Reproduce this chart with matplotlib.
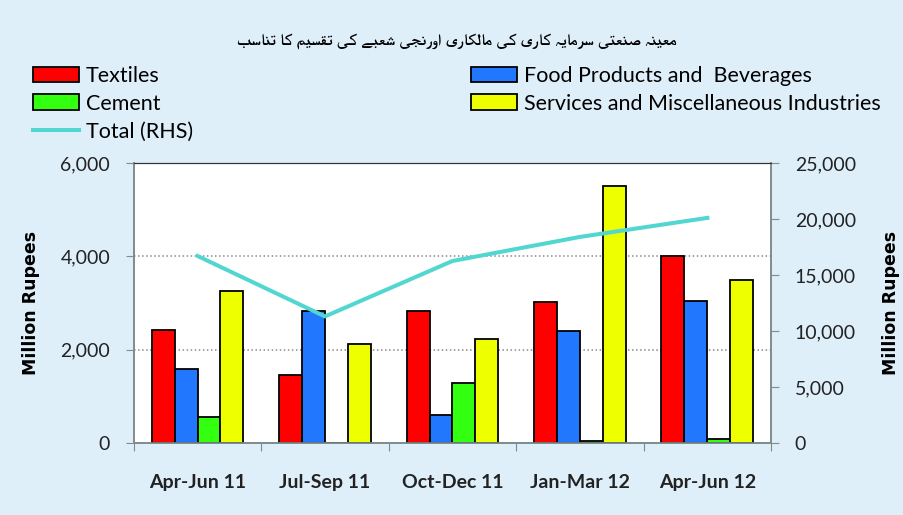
import matplotlib
matplotlib.use("Agg")
import matplotlib.pyplot as plt
import numpy as np
from matplotlib.patches import Patch
from matplotlib.lines import Line2D
from matplotlib import font_manager
from matplotlib.ft2font import FT2Font

# data
periods = ["Apr-Jun 11", "Jul-Sep 11", "Oct-Dec 11", "Jan-Mar 12", "Apr-Jun 12"]
textiles = [2420, 1450, 2820, 3030, 4010]
food = [1580, 2830, 590, 2390, 3050]
cement = [550, 0, 1290, 40, 90]
services = [3260, 2120, 2230, 5510, 3490]
total = [16700, 11300, 16250, 18400, 20100]

series_names = ["Textiles", "Food Products and  Beverages", "Cement",
                "Services and Miscellaneous Industries"]
# urdu title, reading order
title_words = ["معینہ", "صنعتی", "سرمایہ", "کاری", "کی", "مالکاری", "اورنجی",
               "شعبے", "کی", "تقسیم", "کا", "تناسب"]

bg = "#dfeffa"
c_red, c_blue, c_green, c_yellow = "#ff0000", "#2277ff", "#33ff11", "#eeff00"
c_line = "#52d6d0"

# tiny arabic shaper (matplotlib has no complex text layout)
forms = {
    "ا": (0xFE8D, 0xFE8E, None, None),
    "ب": (0xFE8F, 0xFE90, 0xFE91, 0xFE92),
    "ت": (0xFE95, 0xFE96, 0xFE97, 0xFE98),
    "ج": (0xFE9D, 0xFE9E, 0xFE9F, 0xFEA0),
    "ر": (0xFEAD, 0xFEAE, None, None),
    "س": (0xFEB1, 0xFEB2, 0xFEB3, 0xFEB4),
    "ش": (0xFEB5, 0xFEB6, 0xFEB7, 0xFEB8),
    "ص": (0xFEB9, 0xFEBA, 0xFEBB, 0xFEBC),
    "ع": (0xFEC9, 0xFECA, 0xFECB, 0xFECC),
    "ق": (0xFED5, 0xFED6, 0xFED7, 0xFED8),
    "ل": (0xFEDD, 0xFEDE, 0xFEDF, 0xFEE0),
    "م": (0xFEE1, 0xFEE2, 0xFEE3, 0xFEE4),
    "ن": (0xFEE5, 0xFEE6, 0xFEE7, 0xFEE8),
    "و": (0xFEED, 0xFEEE, None, None),
    "ک": (0xFB8E, 0xFB8F, 0xFB90, 0xFB91),
    "ہ": (0xFBA6, 0xFBA7, 0xFBA8, 0xFBA9),
    "ی": (0xFBFC, 0xFBFD, 0xFBFE, 0xFBFF),
    "ے": (0xFBAE, 0xFBAF, None, None),
}


def shape(word):
    out = []
    for i, ch in enumerate(word):
        iso, fin, ini, med = forms[ch]
        prev_j = i > 0 and forms[word[i - 1]][2] is not None
        next_j = i < len(word) - 1 and ini is not None
        if prev_j and next_j:
            g = med
        elif prev_j:
            g = fin
        elif next_j:
            g = ini
        else:
            g = iso
        out.append(chr(g))
    return "".join(reversed(out))


# matplotlib lays glyphs out left to right, so words go in reverse reading order
title = " ".join(shape(wd) for wd in reversed(title_words))

# pick an installed family that covers every glyph of the title
needed = {ord(c) for c in title if c != " "}
covering = {}
for f in font_manager.fontManager.ttflist:
    try:
        cm = FT2Font(f.fname).get_charmap()
    except Exception:
        continue
    if needed <= set(cm):
        covering.setdefault(f.name, f.fname)
title_fam = ["DejaVu Sans"]
for pref in ["FreeSans", "FreeSerif"] + sorted(covering):
    if pref in covering:
        title_fam = [pref, "DejaVu Sans"]
        break

fig = plt.figure(figsize=(9.04, 5.15), dpi=100, facecolor=bg)
ax = fig.add_axes([0.148, 0.1398, 0.705, 0.5437])
ax2 = ax.twinx()

x = np.arange(len(periods))
w = 0.18
for k, (vals, col) in enumerate(zip([textiles, food, cement, services],
                                     [c_red, c_blue, c_green, c_yellow])):
    ax.bar(x + (k - 1.5) * w, vals, w, color=col, edgecolor="black", linewidth=1.3, zorder=3)

ax2.plot(x, total, color=c_line, lw=2.9, zorder=4)

ax.set_xlim(-0.5, 4.5)
ax.set_ylim(0, 6000)
ax.set_yticks([0, 2000, 4000, 6000])
ax.set_yticklabels([f"{v:,}" for v in [0, 2000, 4000, 6000]])
ax2.set_ylim(0, 25000)
ax2.set_yticks(range(0, 25001, 5000))
ax2.set_yticklabels([f"{v:,}" for v in range(0, 25001, 5000)])

ax.grid(axis="y", linestyle=":", color="#8a8a8a", lw=1.1)
ax.set_axisbelow(True)

ax.set_xticks(np.arange(-0.5, 5, 1))
ax.set_xticklabels([])
ax.set_xticks(x, minor=True)
ax.set_xticklabels(periods, minor=True, fontsize=14, family="Lato", fontweight="bold", color="#222222")
ax.tick_params(axis="x", which="minor", length=0, pad=22)
ax.tick_params(axis="x", which="major", length=6, color="#7f8c8c", direction="out")
ax.tick_params(axis="y", length=6, color="#7f8c8c", pad=11, labelsize=14, labelcolor="#222222")
ax2.tick_params(axis="y", length=6, color="#7f8c8c", pad=11, labelsize=14, labelcolor="#222222")
for t in ax.get_yticklabels() + ax2.get_yticklabels():
    t.set_family("Lato")

for a in (ax, ax2):
    for s in ["left", "right", "bottom"]:
        a.spines[s].set_color("#7f8c8c")
        a.spines[s].set_linewidth(1.2)
    a.spines["top"].set_color("#333333")

fig.text(31 / 904, 1 - 303 / 515, "Million Rupees", rotation=90, ha="center", va="center",
         fontsize=12.5, fontweight="bold", color="black")
fig.text(891 / 904, 1 - 303 / 515, "Million Rupees", rotation=90, ha="center", va="center",
         fontsize=12.5, fontweight="bold", color="black")

fig.text(0.505, 1 - 42 / 515, title, ha="center", va="center", fontsize=11.8,
         fontweight="bold", family=title_fam, color="black")


def box(col):
    return Patch(facecolor=col, edgecolor="black", linewidth=1.3)


leg_kw = dict(frameon=False, handlelength=2.15, handleheight=0.75,
              handletextpad=0.3, labelspacing=0.36, borderpad=0, borderaxespad=0,
              loc="upper left", prop={"family": "Lato", "size": 15.5})
fig.legend([box(c_red), box(c_green), Line2D([], [], color=c_line, lw=2.9)],
           [series_names[0], series_names[2], "Total (RHS)"],
           bbox_to_anchor=(33 / 904, 1 - 66 / 515), **leg_kw)
fig.legend([box(c_blue), box(c_yellow)], [series_names[1], series_names[3]],
           bbox_to_anchor=(471 / 904, 1 - 66 / 515), **leg_kw)

fig.savefig("out.png", dpi=100, facecolor=bg)
